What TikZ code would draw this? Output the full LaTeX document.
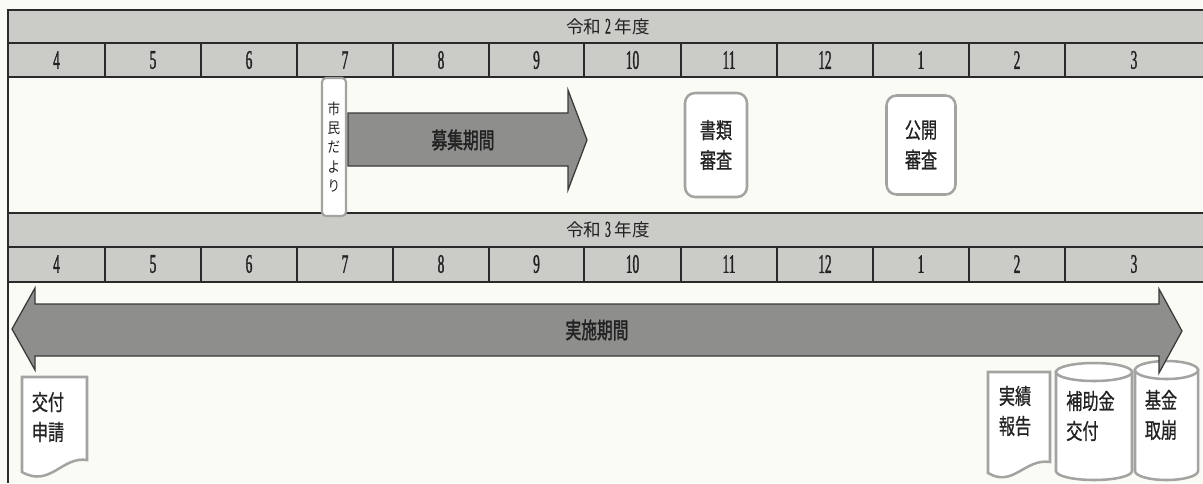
\documentclass[tikz,border=0pt]{standalone}
\usepackage{fontspec}
\newfontfamily\jp{Noto Sans CJK JP}
\newfontfamily\jpm[FakeBold=0.9]{Noto Sans CJK JP}
\newfontfamily\jpb[FakeBold=1.8]{Noto Sans CJK JP}
\newfontfamily\numf[FakeStretch=0.5,FakeBold=1.2]{Liberation Serif}
\newcommand\cq[2]{\scalebox{#1}[1]{#2}}
\definecolor{bgc}{HTML}{FBFBF5}
\definecolor{hdr}{HTML}{CBCBC7}
\definecolor{gridc}{HTML}{2A2A2A}
\definecolor{arrf}{HTML}{8E8E8C}
\definecolor{arrd}{HTML}{3A3A3A}
\definecolor{boxg}{HTML}{A3A3A1}
\definecolor{txt}{HTML}{222222}
\def\u{0.025cm}
\tikzset{
  gridline/.style={draw=gridc, line width=1pt},
  month/.style={font=\numf\fontsize{19}{19}\selectfont, text=txt, inner sep=0pt},
  year/.style={font=\jp\fontsize{12.5}{12.5}\selectfont, text=txt, inner sep=0pt},
  bigarrow/.style={fill=arrf, draw=arrd, line width=0.9pt, line join=miter},
  arrtext/.style={font=\jpb\fontsize{16}{16}\selectfont, text=txt, inner sep=0pt},
  rbox/.style={draw=boxg, fill=white, line width=1.8pt, inner sep=0pt, align=center,
    font=\jpm\fontsize{15.5}{21.3}\selectfont, text=txt},
  shape2/.style={draw=boxg, fill=white, line width=1.8pt},
  label2/.style={font=\jpm\fontsize{15.5}{21.3}\selectfont, text=txt, inner sep=0pt, align=left},
}
\begin{document}
\begin{tikzpicture}[x=0.025cm,y=-0.025cm]
\useasboundingbox (0,0) rectangle (1203,483);
\fill[bgc] (0,0) rectangle (1203,483);
% header bands
\fill[hdr] (8,10) rectangle (1203,77);
\fill[hdr] (8,213) rectangle (1203,282);
\draw[gridline] (1203,10) -- (8,10) -- (8,483);
\foreach \yy in {43,77,213,247,282} \draw[gridline] (8,\yy) -- (1203,\yy);
\foreach \xx in {105,201,297,393,489,584,681,777,873,969,1065} {
  \draw[gridline] (\xx,43) -- (\xx,77);
  \draw[gridline] (\xx,247) -- (\xx,282);
}
\node[year] (y2) at (608,27) {令和 {\numf\fontsize{16}{16}\selectfont 2} 年度};
\node[year] (y3) at (608,230) {令和 {\numf\fontsize{16}{16}\selectfont 3} 年度};
\foreach \cx/\m [count=\i] in {56.5/4,153/5,249/6,345/7,441/8,536.5/9,632.5/10,729/11,825/12,921/1,1017/2,1134/3} {
  \node[month] (a\i) at (\cx,60) {\m};
  \node[month] (b\i) at (\cx,264) {\m};
}
% 市民だより
\node[draw=boxg, fill=white, line width=1.5pt, rounded corners=4*\u, inner sep=0pt,
  minimum width=24*\u, minimum height=138*\u, align=center,
  font=\jp\fontsize{10.5}{13.6}\selectfont, text=txt] (shimin) at (334,147)
  {\cq{.85}{市}\\\cq{.85}{民}\\\cq{.85}{だ}\\\cq{.85}{よ}\\\cq{.85}{り}};
% 募集期間 arrow
\draw[bigarrow] (348,113) -- (568,113) -- (568,90) -- (587,140) -- (568,190) -- (568,166) -- (348,166) -- cycle;
\node[arrtext] (boshu) at (463,140) {\cq{.7}{募集期間}};
% review boxes
\node[rbox, rounded corners=10*\u, minimum width=62*\u, minimum height=104*\u] (shorui) at (716,145) {\cq{.74}{書類}\\\cq{.74}{審査}};
\node[rbox, rounded corners=10*\u, minimum width=69*\u, minimum height=99*\u] (kokai) at (921,145) {\cq{.74}{公開}\\\cq{.74}{審査}};
% documents
\draw[shape2] (22,377) -- (87,377) -- (87,460) .. controls (62,456) and (50,488) .. (22,472) -- cycle;
\node[label2] (kofu) at (48,417) {\cq{.74}{交付}\\\cq{.74}{申請}};
\draw[shape2] (988,372) -- (1050,372) -- (1050,462) .. controls (1025,458) and (1013,488) .. (988,473) -- cycle;
\node[label2] (jisseki) at (1015,411) {\cq{.74}{実績}\\\cq{.74}{報告}};
% cylinders
\filldraw[shape2] (1056,372) -- (1056,471) arc[start angle=180, end angle=360, x radius=38*\u, y radius=9*\u] -- (1132,372) -- cycle;
\filldraw[shape2] (1094,372) ellipse[x radius=38*\u, y radius=9*\u];
\node[label2, anchor=west] (hojo) at (1066,416) {\cq{.74}{補助金}\\\cq{.74}{交付}};
\filldraw[shape2] (1135,370) -- (1135,471) arc[start angle=180, end angle=360, x radius=31.5*\u, y radius=9*\u] -- (1198,370) -- cycle;
\filldraw[shape2] (1166.5,370) ellipse[x radius=31.5*\u, y radius=9*\u];
\node[label2] (kikin) at (1161,415) {\cq{.74}{基金}\\\cq{.74}{取崩}};
% 実施期間 double arrow
\draw[bigarrow] (12,329) -- (35,288) -- (35,304) -- (1159,304) -- (1159,289) -- (1182,331) -- (1159,373) -- (1159,356) -- (35,356) -- (35,370) -- cycle;
\node[arrtext] (jisshi) at (597,330) {\cq{.7}{実施期間}};
\end{tikzpicture}
\end{document}
